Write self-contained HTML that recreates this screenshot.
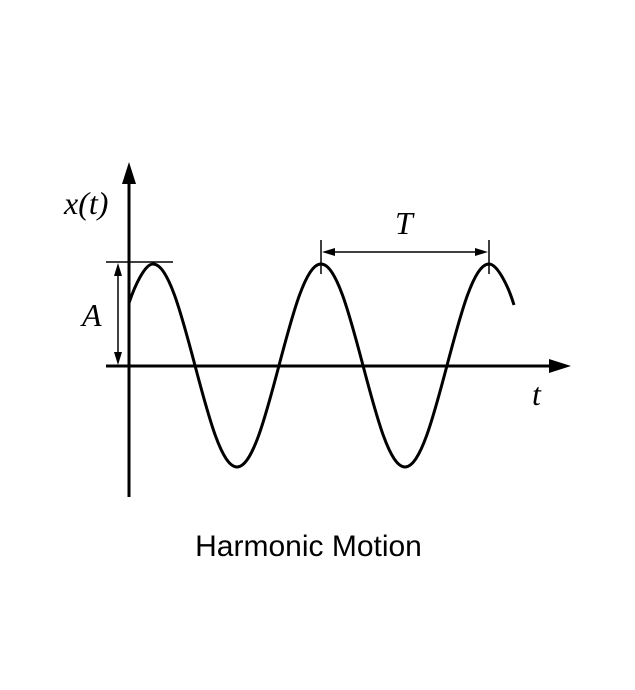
<!DOCTYPE html>
<html><head><style>
html,body{margin:0;padding:0;background:#fff;}
svg{display:block;}
</style></head><body>
<svg width="635" height="690" viewBox="0 0 635 690" xmlns="http://www.w3.org/2000/svg">
<rect width="635" height="690" fill="#fff"/>
<line x1="129" y1="180" x2="129" y2="497" stroke="#000" stroke-width="3"/>
<polygon points="129,162 122,184 136,184" fill="#000"/>
<line x1="106" y1="366" x2="552" y2="366" stroke="#000" stroke-width="3"/>
<polygon points="571,366 549,359 549,373" fill="#000"/>
<path d="M129,303 C135,285 145,264 153,264
C168.2,264 181.3,313.5 195,365.5 C208.7,417.5 221.8,467 237,467
C252.2,467 265.3,417.5 279,365.5 C292.7,313.5 305.8,264 321,264
C336.2,264 349.3,313.5 363,365.5 C376.7,417.5 389.8,467 405,467
C420.2,467 433.3,417.5 447,365.5 C460.7,313.5 473.8,264 489,264
C497,264 508,285 514,305" fill="none" stroke="#000" stroke-width="3"/>
<line x1="106" y1="262" x2="173" y2="262" stroke="#000" stroke-width="1.5"/>
<line x1="118" y1="270" x2="118" y2="358" stroke="#000" stroke-width="1.5"/>
<polygon points="118,263 114,276 122,276" fill="#000"/>
<polygon points="118,365 114,352 122,352" fill="#000"/>
<line x1="321" y1="240" x2="321" y2="274" stroke="#000" stroke-width="1.5"/>
<line x1="489" y1="240" x2="489" y2="274" stroke="#000" stroke-width="1.5"/>
<line x1="328" y1="252" x2="482" y2="252" stroke="#000" stroke-width="1.5"/>
<polygon points="322,252 335,248 335,256" fill="#000"/>
<polygon points="488,252 475,248 475,256" fill="#000"/>
<text x="64" y="214" font-family="Liberation Serif, serif" font-style="italic" font-size="32">x(t)</text>
<text x="395" y="234" font-family="Liberation Serif, serif" font-style="italic" font-size="32">T</text>
<text x="82" y="326" font-family="Liberation Serif, serif" font-style="italic" font-size="32">A</text>
<text x="532" y="405" font-family="Liberation Serif, serif" font-style="italic" font-size="32">t</text>
<text x="308.5" y="556" text-anchor="middle" font-family="Liberation Sans, Arial, sans-serif" font-size="30">Harmonic Motion</text>
</svg>
</body></html>
